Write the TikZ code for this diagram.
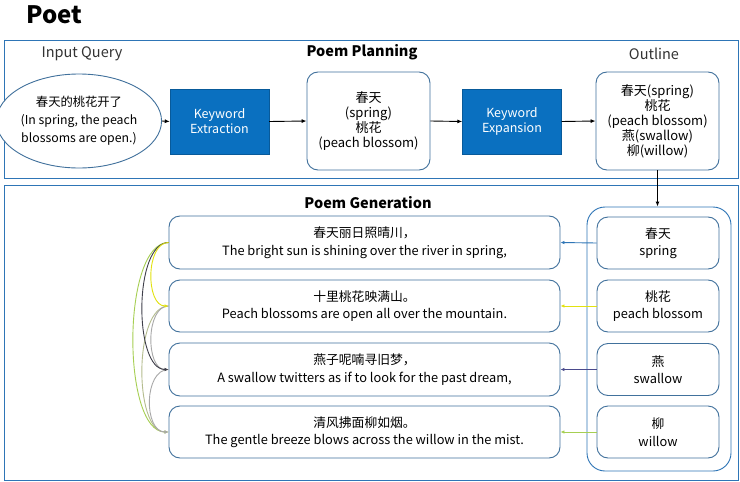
\documentclass[tikz,border=0pt]{standalone}
\usepackage{fontspec}
\setmainfont{Noto Sans CJK SC}
\usetikzlibrary{shapes.geometric,arrows.meta}
\definecolor{pblue}{HTML}{2E75B6}
\definecolor{bbord}{HTML}{41719C}
\definecolor{kfill}{HTML}{0A70C0}
\definecolor{cyel}{HTML}{E2E210}
\definecolor{cdark}{HTML}{3F3F4A}
\definecolor{cgreen}{HTML}{A6CF52}
\definecolor{cgray}{HTML}{A8A8A8}
\definecolor{cgg}{HTML}{B4BC8E}
\definecolor{cpurp}{HTML}{4A4A8C}
\begin{document}
\begin{tikzpicture}[x=1pt,y=-1pt,
  panel/.style={draw=pblue,line width=0.9pt,fill=white,inner sep=0pt},
  rbox/.style={draw=bbord,line width=0.9pt,rounded corners=11pt,fill=white,align=center,inner sep=0pt,font=\fontsize{12.8}{17.5}\selectfont},
  tbox/.style={rbox,font=\fontsize{13}{15}\selectfont},
  kbox/.style={fill=kfill,draw=kfill!80!black,text=white,align=center,inner sep=0pt,minimum width=99pt,minimum height=65pt,font=\fontsize{12.5}{15}\selectfont},
  lbl/.style={font=\fontsize{14.5}{16}\selectfont,text=black!80},
  hdr/.style={font=\fontsize{14.5}{16}\selectfont\bfseries},
  arr/.style={-{Latex[length=5pt,width=4pt]},line width=0.9pt},
  sarr/.style={-{Latex[length=4pt,width=3.5pt]},line width=0.9pt},
  crv/.style={line width=0.9pt,-{Latex[length=4pt,width=3.5pt]}}]
\useasboundingbox (0,0) rectangle (740,482);
\fill[white] (0,0) rectangle (740,482);
\node[anchor=west,font=\fontsize{24}{26}\selectfont\bfseries] (title) at (23,15) {Poet};
% top panel
\node[panel,minimum width=734pt,minimum height=138pt] (top) at (371,109) {};
\node[lbl] (iq) at (82,54) {Input Query};
\node[hdr] (pp) at (362,52) {Poem Planning};
\node[lbl] (ol) at (654,54) {Outline};
\node[draw=bbord,line width=0.9pt,ellipse,minimum width=135pt,minimum height=94pt,inner sep=0pt,align=center,font=\fontsize{12.3}{18}\selectfont,fill=white] (q) at (79,121)
  {春天的桃花开了\\(In spring, the peach\\blossoms are open.)};
\node[kbox] (ke) at (219.5,121.5) {Keyword\\Extraction};
\node[tbox,minimum width=123pt,minimum height=98pt] (kw) at (368.5,121) {春天\\(spring)\\桃花\\(peach blossom)};
\node[kbox] (kx) at (512,121.5) {Keyword\\Expansion};
\node[tbox,minimum width=123pt,minimum height=98pt] (out) at (657.5,121) {春天(spring)\\桃花\\(peach blossom)\\燕(swallow)\\柳(willow)};
\draw[arr] (q.east) -- (ke.west);
\draw[arr] (ke.east) -- (kw.west);
\draw[arr] (kw.east) -- (kx.west);
\draw[arr] (kx.east) -- (out.west);
% bottom panel
\node[panel,minimum width=734pt,minimum height=295pt] (bot) at (371,332.5) {};
\node[hdr] (pg) at (368,203) {Poem Generation};
\node[draw=pblue,line width=0.9pt,rounded corners=18pt,minimum width=144pt,minimum height=264pt,inner sep=0pt] (cont) at (659,339) {};
\draw[arr] (out.south) -- (out.south |- cont.north);
% keyword boxes
\node[rbox,minimum width=122pt,minimum height=52pt] (k1) at (658,243) {春天\\spring};
\node[rbox,minimum width=122pt,minimum height=52pt] (k2) at (658,306) {桃花\\peach blossom};
\node[rbox,minimum width=122pt,minimum height=52pt] (k3) at (658,369.5) {燕\\swallow};
\node[rbox,minimum width=122pt,minimum height=52pt] (k4) at (658,432) {柳\\willow};
% poem boxes
\node[rbox,minimum width=391pt,minimum height=53pt] (p1) at (364.5,242.5) {春天丽日照晴川，\\The bright sun is shining over the river in spring,};
\node[rbox,minimum width=391pt,minimum height=52pt] (p2) at (364.5,306) {十里桃花映满山。\\Peach blossoms are open all over the mountain.};
\node[rbox,minimum width=391pt,minimum height=53pt] (p3) at (364.5,369.5) {燕子呢喃寻旧梦，\\A swallow twitters as if to look for the past dream,};
\node[rbox,minimum width=391pt,minimum height=52pt] (p4) at (364.5,432) {清风拂面柳如烟。\\The gentle breeze blows across the willow in the mist.};
\draw[sarr,draw=pblue] (k1.west) -- (p1.east);
\draw[sarr,draw=cyel] (k2.west) -- (p2.east);
\draw[sarr,draw=cpurp] (k3.west) -- (p3.east);
\draw[sarr,draw=cgreen] (k4.west) -- (p4.east);
% left curves
\draw[crv,draw=cgreen] (p1.west) .. controls ([xshift=-47pt]p1.west) and ([xshift=-47pt]p4.west) .. (p4.west);
\draw[crv,draw=cgg] (p2.west) .. controls ([xshift=-35pt]p2.west) and ([xshift=-35pt]p4.west) .. (p4.west);
\draw[crv,draw=cgray] (p3.west) .. controls ([xshift=-25pt]p3.west) and ([xshift=-25pt]p4.west) .. (p4.west);
\draw[crv,draw=cgray] (p2.west) .. controls ([xshift=-23pt]p2.west) and ([xshift=-23pt]p3.west) .. (p3.west);
\draw[crv,draw=cdark] (p1.west) .. controls ([xshift=-35pt]p1.west) and ([xshift=-35pt]p3.west) .. (p3.west);
\draw[crv,draw=cyel] (p1.west) .. controls ([xshift=-23pt]p1.west) and ([xshift=-23pt]p2.west) .. (p2.west);
\end{tikzpicture}
\end{document}
